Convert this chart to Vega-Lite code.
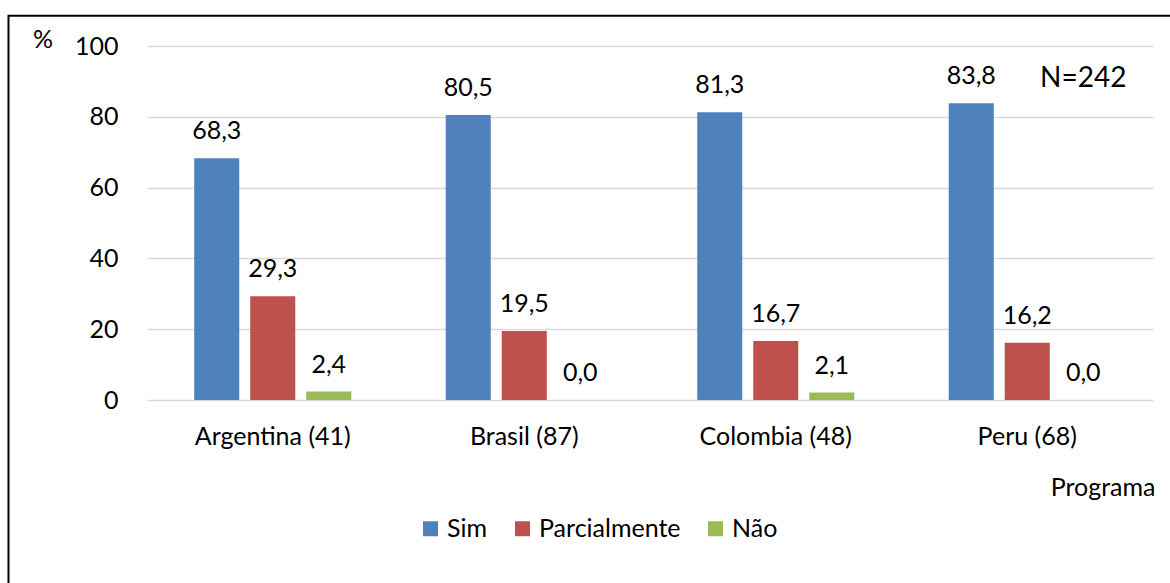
{
  "$schema": "https://vega.github.io/schema/vega-lite/v6.json",
  "width": 1006,
  "height": 354,
  "autosize": {"type": "none"},
  "padding": {"left": 147, "top": 46, "right": 17, "bottom": 183},
  "background": "white",
  "config": {
    "view": {"stroke": null},
    "font": "Lato",
    "locale": {"number": {"decimal": ",", "thousands": ".", "grouping": [3], "currency": ["", ""]}},
    "axis": {
      "labelFont": "Lato",
      "labelFontSize": 25,
      "labelColor": "#000000",
      "titleFont": "Lato",
      "titleFontSize": 25,
      "titleFontWeight": "normal",
      "titleColor": "#000000"
    },
    "legend": {
      "labelFont": "Lato",
      "labelFontSize": 25,
      "labelColor": "#000000"
    }
  },
  "datasets": {
    "respostas": [
      {"programa": "Argentina (41)", "resposta": "Sim", "valor": 68.3},
      {"programa": "Argentina (41)", "resposta": "Parcialmente", "valor": 29.3},
      {"programa": "Argentina (41)", "resposta": "Não", "valor": 2.4},
      {"programa": "Brasil (87)", "resposta": "Sim", "valor": 80.5},
      {"programa": "Brasil (87)", "resposta": "Parcialmente", "valor": 19.5},
      {"programa": "Brasil (87)", "resposta": "Não", "valor": 0.0},
      {"programa": "Colombia (48)", "resposta": "Sim", "valor": 81.3},
      {"programa": "Colombia (48)", "resposta": "Parcialmente", "valor": 16.7},
      {"programa": "Colombia (48)", "resposta": "Não", "valor": 2.1},
      {"programa": "Peru (68)", "resposta": "Sim", "valor": 83.8},
      {"programa": "Peru (68)", "resposta": "Parcialmente", "valor": 16.2},
      {"programa": "Peru (68)", "resposta": "Não", "valor": 0.0}
    ],
    "total": [
      {"programa": "Peru (68)", "resposta": "Não", "pos": 88.3, "rotulo": "N=242"}
    ]
  },
  "layer": [
    {
      "description": "outer frame of the chart (top and left edges visible)",
      "data": {"values": [{}]},
      "mark": {"type": "rect", "fill": null, "stroke": "#000000", "strokeWidth": 2},
      "encoding": {
        "x": {"value": -138.5},
        "x2": {"value": 1100},
        "y": {"value": -30.3},
        "y2": {"value": 600}
      }
    },
    {
      "data": {"name": "respostas"},
      "mark": {"type": "bar"},
      "encoding": {
        "x": {
          "field": "programa",
          "type": "nominal",
          "scale": {
            "domain": ["Argentina (41)", "Brasil (87)", "Colombia (48)", "Peru (68)"],
            "paddingInner": 0,
            "paddingOuter": 0
          },
          "axis": {
            "title": "Programa",
            "labelAngle": 0,
            "ticks": false,
            "tickSize": 0,
            "domain": false,
            "labelPadding": 44,
            "labelBaseline": "alphabetic",
            "titleAnchor": "end",
            "titleAlign": "right",
            "titleBaseline": "alphabetic",
            "titleX": 1008,
            "titleY": 95
          }
        },
        "xOffset": {
          "field": "resposta",
          "type": "nominal",
          "scale": {
            "domain": ["Sim", "Parcialmente", "Não"],
            "paddingInner": 0.196,
            "paddingOuter": 0.843
          }
        },
        "y": {
          "field": "valor",
          "type": "quantitative",
          "scale": {"domain": [0, 100], "nice": false},
          "axis": {
            "values": [0, 20, 40, 60, 80, 100],
            "grid": true,
            "gridColor": "#D9D9D9",
            "gridWidth": 1.5,
            "ticks": false,
            "tickSize": 0,
            "domain": false,
            "labelPadding": 29,
            "title": "%",
            "titleAngle": 0,
            "titleAlign": "center",
            "titleBaseline": "alphabetic",
            "titleX": -104.5,
            "titleY": 1
          }
        },
        "color": {
          "field": "resposta",
          "type": "nominal",
          "scale": {
            "domain": ["Sim", "Parcialmente", "Não"],
            "range": ["#4F81BD", "#C0504D", "#9BBB59"]
          },
          "legend": {
            "title": null,
            "orient": "none",
            "direction": "horizontal",
            "legendX": 271,
            "legendY": 470,
            "padding": 0,
            "symbolType": "square",
            "symbolSize": 225,
            "symbolStrokeWidth": 0,
            "labelOffset": 4,
            "columnPadding": 22
          }
        }
      }
    },
    {
      "data": {"name": "respostas"},
      "mark": {"type": "text", "baseline": "alphabetic", "dy": -19, "fontSize": 25, "color": "#000000"},
      "encoding": {
        "x": {"field": "programa", "type": "nominal"},
        "xOffset": {"field": "resposta", "type": "nominal"},
        "y": {"field": "valor", "type": "quantitative"},
        "text": {"field": "valor", "type": "quantitative", "format": ".1f"}
      }
    },
    {
      "data": {"name": "total"},
      "mark": {"type": "text", "baseline": "alphabetic", "fontSize": 28, "color": "#000000"},
      "encoding": {
        "x": {"field": "programa", "type": "nominal"},
        "xOffset": {"field": "resposta", "type": "nominal"},
        "y": {"field": "pos", "type": "quantitative"},
        "text": {"field": "rotulo"}
      }
    }
  ]
}
